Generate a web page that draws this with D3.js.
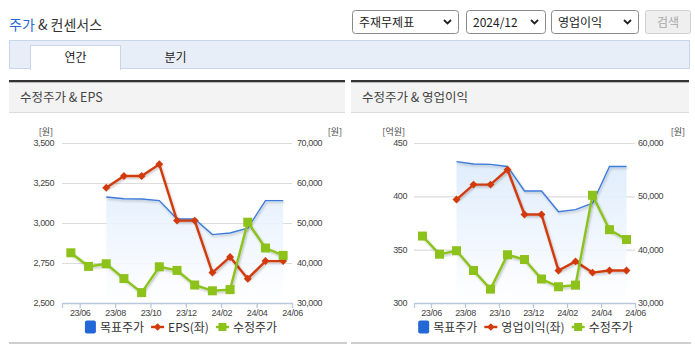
<!DOCTYPE html>
<html>
<head>
<meta charset="utf-8">
<script src="https://cdn.jsdelivr.net/npm/d3@7"></script>
<style>
  html, body { margin: 0; padding: 0; background: #fff; }
  svg { display: block; font-family: "Noto Sans CJK KR", "Noto Sans", sans-serif; }
  .num { font-family: "Liberation Sans", Arial, sans-serif; }
</style>
</head>
<body>
<svg id="chart" width="695" height="349"></svg>
<script>
// Monthly categories shared by both charts
const months = ["23/06","23/07","23/08","23/09","23/10","23/11","23/12",
                "24/01","24/02","24/03","24/04","24/05","24/06"];
const xTickLabels = ["23/06","23/08","23/10","23/12","24/02","24/04","24/06"];

// Adjusted share price (원, right axis)
const adjPrice = [42550, 39150, 39800, 36100, 32600, 39050, 38150,
                  34500, 33050, 33350, 50200, 43750, 41900];
// Consensus target price (원, right axis)
const targetPrice = [null, null, 56500, 56050, 56000, 55600, 51000,
                     51000, 47100, 47500, 48700, 55600, 55600];
// EPS (원, left axis)
const eps = [null, null, 3220, 3294, 3294, 3367, 3015,
             3015, 2690, 2788, 2652, 2762, 2762];
// Operating income (억원, left axis)
const opIncome = [null, null, 397, 411, 411, 425, 383,
                  383, 330.5, 339, 328.5, 330.5, 330.5];

// Axis ticks
const epsTicks = [2500, 2750, 3000, 3250, 3500];
const priceTicksA = [30000, 40000, 50000, 60000, 70000];
const opTicks = [300, 350, 400, 450];
const priceTicksB = [30000, 40000, 50000, 60000];

// Page chrome labels
const selectLabels = ["주재무제표", "2024/12", "영업이익"];
const tabLabels = ["연간", "분기"];

const svg = d3.select("#chart");
const defs = svg.append("defs");

const shadow = defs.append("filter").attr("id", "shadow")
  .attr("x", "-10%").attr("y", "-10%").attr("width", "130%").attr("height", "130%");
shadow.append("feDropShadow").attr("dx", 1).attr("dy", 1.5)
  .attr("stdDeviation", 0.8).attr("flood-color", "#000").attr("flood-opacity", 0.25);

// ---------- header ----------
const title = svg.append("text").attr("x", 9).attr("y", 30)
  .attr("font-size", 14).attr("fill", "#333");
title.append("tspan").attr("fill", "#2a6ad6").text("주가");
title.append("tspan").text(" & 컨센서스");

const selects = [
  { x: 352, w: 106 },
  { x: 466, w: 79 },
  { x: 551, w: 87 }
];
selects.forEach((s, i) => {
  const g = svg.append("g").attr("transform", `translate(${s.x},10)`);
  g.append("rect").attr("x", 0.5).attr("y", 0.5).attr("width", s.w).attr("height", 23)
    .attr("rx", 3).attr("fill", "#fff").attr("stroke", "#8a8a8a");
  g.append("text").attr("x", 7).attr("y", 17).attr("font-size", 12).attr("fill", "#222")
    .text(selectLabels[i]);
  g.append("path").attr("d", `M${s.w - 14},10 l3.5,3.5 l3.5,-3.5`)
    .attr("fill", "none").attr("stroke", "#222").attr("stroke-width", 1.8);
});
const btn = svg.append("g").attr("transform", "translate(645,10)");
btn.append("rect").attr("x", 0.5).attr("y", 0.5).attr("width", 45).attr("height", 23)
  .attr("rx", 2).attr("fill", "#efefef").attr("stroke", "#d0d0d0");
btn.append("text").attr("x", 23).attr("y", 17).attr("text-anchor", "middle")
  .attr("font-size", 12).attr("fill", "#a8a8a8").text("검색");

// tab bar
svg.append("rect").attr("x", 9.5).attr("y", 40.5).attr("width", 680).attr("height", 28)
  .attr("fill", "#e8eef8").attr("stroke", "#c9d5e8");
svg.append("rect").attr("x", 30.5).attr("y", 45.5).attr("width", 90).attr("height", 24)
  .attr("fill", "#fff").attr("stroke", "#c9d5e8");
svg.append("rect").attr("x", 31).attr("y", 68).attr("width", 89).attr("height", 2).attr("fill", "#fff");
svg.append("text").attr("x", 75.5).attr("y", 62).attr("text-anchor", "middle")
  .attr("font-size", 12).attr("fill", "#222").text(tabLabels[0]);
svg.append("text").attr("x", 175.5).attr("y", 62).attr("text-anchor", "middle")
  .attr("font-size", 12).attr("fill", "#222").text(tabLabels[1]);

// ---------- chart panels ----------
function drawPanel(cfg) {
  const g = svg.append("g");
  const { px0, px1 } = cfg;

  // panel heading
  g.append("rect").attr("x", px0).attr("y", 82).attr("width", px1 - px0).attr("height", 30)
    .attr("fill", "#f3f3f3");
  g.append("rect").attr("x", px0).attr("y", 80).attr("width", px1 - px0).attr("height", 2.3)
    .attr("fill", "#333");
  g.append("rect").attr("x", px0).attr("y", 112).attr("width", px1 - px0).attr("height", 1)
    .attr("fill", "#dcdcdc");
  g.append("text").attr("x", px0 + 11).attr("y", 102).attr("font-size", 12.5)
    .attr("fill", "#444").text(cfg.title);
  // panel bottom rule
  g.append("rect").attr("x", px0).attr("y", 342).attr("width", px1 - px0 + 2).attr("height", 2)
    .attr("fill", "#cfcfcf");

  const L = cfg.left, R = cfg.right, T = 143, B = 303;

  const x = d3.scaleBand().domain(months).range([L, R]).paddingInner(0).paddingOuter(0);
  const bw = x.bandwidth();
  const cx = m => x(m) + bw / 2;
  const yL = d3.scaleLinear().domain(cfg.leftDomain).range([B, T]);
  const yR = d3.scaleLinear().domain(cfg.rightDomain).range([B, T]);

  // gridlines
  g.append("g").selectAll("line").data(cfg.leftTicks.slice(1)).join("line")
    .attr("x1", L).attr("x2", R)
    .attr("y1", d => yL(d) + 0.5).attr("y2", d => yL(d) + 0.5)
    .attr("stroke", "#dcdcdc").attr("stroke-width", 1.2);

  // y tick labels
  const fmt = d3.format(",");
  g.append("g").selectAll("text").data(cfg.leftTicks).join("text")
    .attr("class", "num")
    .attr("x", L - cfg.leftGap).attr("y", d => yL(d) + 3)
    .attr("text-anchor", "end").attr("font-size", 9).attr("letter-spacing", -0.4)
    .attr("fill", "#444").text(fmt);
  g.append("g").selectAll("text").data(cfg.rightTicks).join("text")
    .attr("class", "num")
    .attr("x", R + cfg.rightGap).attr("y", d => yR(d) + 3)
    .attr("font-size", 9).attr("letter-spacing", -0.4)
    .attr("fill", "#444").text(fmt);
  g.append("text").attr("x", cfg.leftUnitX).attr("y", 135).attr("text-anchor", "end")
    .attr("font-size", 9).attr("fill", "#444").text(cfg.leftUnit);
  g.append("text").attr("x", cfg.rightUnitX).attr("y", 135).attr("text-anchor", "end")
    .attr("font-size", 9).attr("fill", "#444").text(cfg.rightUnit);

  // x axis: ticks sit on the right edge of each labelled month
  const xb = d3.scaleLinear().domain([0, months.length]).range([L, R]);
  const tickIdx = [0].concat(xTickLabels.map(t => months.indexOf(t) + 1));
  const axis = d3.axisBottom(xb).tickValues(tickIdx).tickSize(5).tickSizeOuter(0)
    .tickPadding(2).tickFormat(i => i === 0 ? "" : months[i - 1]);
  const ax = g.append("g").attr("transform", `translate(0,${B})`).call(axis);
  ax.select(".domain").attr("stroke", "#b9c8dc").attr("stroke-width", 1.3);
  ax.selectAll(".tick line").attr("stroke", "#b9c8dc").attr("stroke-width", 1.3);
  ax.selectAll(".tick text").attr("class", "num").attr("font-size", 9)
    .attr("letter-spacing", -0.4).attr("fill", "#444").attr("dy", "0.72em");

  // target price area + line
  const gradId = "grad" + cfg.id;
  const grad = defs.append("linearGradient").attr("id", gradId)
    .attr("gradientUnits", "userSpaceOnUse").attr("x1", 0).attr("x2", 0).attr("y1", T).attr("y2", B);
  grad.append("stop").attr("offset", 0).attr("stop-color", "#d7e8fb");
  grad.append("stop").attr("offset", 1).attr("stop-color", "#ffffff");

  const tData = months.map((m, i) => ({ m, v: targetPrice[i] })).filter(d => d.v != null);
  g.append("path").datum(tData)
    .attr("d", d3.area().x(d => cx(d.m)).y0(B - 1).y1(d => yR(d.v)))
    .attr("fill", `url(#${gradId})`).attr("opacity", 0.9);
  g.append("path").datum(tData)
    .attr("d", d3.line().x(d => cx(d.m)).y(d => yR(d.v)))
    .attr("fill", "none").attr("stroke", "#3d7bdb").attr("stroke-width", 1.4)
    .attr("filter", "url(#shadow)");

  // left-axis series (red diamonds)
  const sData = months.map((m, i) => ({ m, v: cfg.series[i] })).filter(d => d.v != null);
  const red = "#d23a0c";
  g.append("path").datum(sData)
    .attr("d", d3.line().x(d => cx(d.m)).y(d => yL(d.v)))
    .attr("fill", "none").attr("stroke", red).attr("stroke-width", 2.4)
    .attr("filter", "url(#shadow)");
  g.append("g").selectAll("path").data(sData).join("path")
    .attr("transform", d => `translate(${cx(d.m)},${yL(d.v)})`)
    .attr("d", d3.symbol(d3.symbolDiamond2, 40)())
    .attr("fill", red);

  // adjusted price (green squares)
  const pData = months.map((m, i) => ({ m, v: adjPrice[i] }));
  const green = "#8cc21a";
  g.append("path").datum(pData)
    .attr("d", d3.line().x(d => cx(d.m)).y(d => yR(d.v)))
    .attr("fill", "none").attr("stroke", green).attr("stroke-width", 2.4)
    .attr("filter", "url(#shadow)");
  g.append("g").selectAll("rect").data(pData).join("rect")
    .attr("x", d => cx(d.m) - 4.5).attr("y", d => yR(d.v) - 4.5)
    .attr("width", 9).attr("height", 9).attr("fill", green);

  // legend
  const lg = g.append("g");
  const items = [
    { name: "목표주가", type: "box", color: "#2468d8" },
    { name: cfg.seriesName, type: "diamond", color: red },
    { name: "수정주가", type: "square", color: green }
  ];
  let cur = 0;
  const ly = 327;
  items.forEach((it, i) => {
    const ig = lg.append("g").attr("transform", `translate(${cur},0)`);
    let mw;
    if (it.type === "box") {
      ig.append("rect").attr("x", 0).attr("y", ly - 6.5).attr("width", 11).attr("height", 13)
        .attr("rx", 2).attr("fill", it.color);
      mw = 11;
    } else {
      ig.append("line").attr("x1", 0).attr("x2", 13).attr("y1", ly).attr("y2", ly)
        .attr("stroke", it.color).attr("stroke-width", 2.4);
      if (it.type === "diamond") {
        ig.append("path").attr("transform", `translate(6.5,${ly})`)
          .attr("d", d3.symbol(d3.symbolDiamond2, 36)()).attr("fill", it.color);
      } else {
        ig.append("rect").attr("x", 2.5).attr("y", ly - 4).attr("width", 8).attr("height", 8)
          .attr("fill", it.color);
      }
      mw = 13;
    }
    const t = ig.append("text").attr("x", mw + 4).attr("y", ly + 4.5)
      .attr("font-size", 12).attr("fill", "#333").text(it.name);
    cur += mw + 4 + t.node().getComputedTextLength() + 7;
  });
  const legW = cur - 7;
  lg.attr("transform", `translate(${(L + R) / 2 + cfg.legendShift - legW / 2},0)`);
}

drawPanel({
  id: "A", px0: 9, px1: 345, title: "수정주가 & EPS",
  left: 62, right: 292,
  leftDomain: [2500, 3500], leftTicks: epsTicks, leftGap: 8, leftUnit: "[원]", leftUnitX: 53,
  rightDomain: [30000, 70000], rightTicks: priceTicksA, rightGap: 5, rightUnit: "[원]", rightUnitX: 342,
  series: eps, seriesName: "EPS(좌)", legendShift: 4
});
drawPanel({
  id: "B", px0: 351, px1: 689, title: "수정주가 & 영업이익",
  left: 414, right: 635,
  leftDomain: [300, 450], leftTicks: opTicks, leftGap: 7, leftUnit: "[억원]", leftUnitX: 405,
  rightDomain: [30000, 60000], rightTicks: priceTicksB, rightGap: 3, rightUnit: "[원]", rightUnitX: 685,
  series: opIncome, seriesName: "영업이익(좌)", legendShift: 1
});
</script>
</body>
</html>
